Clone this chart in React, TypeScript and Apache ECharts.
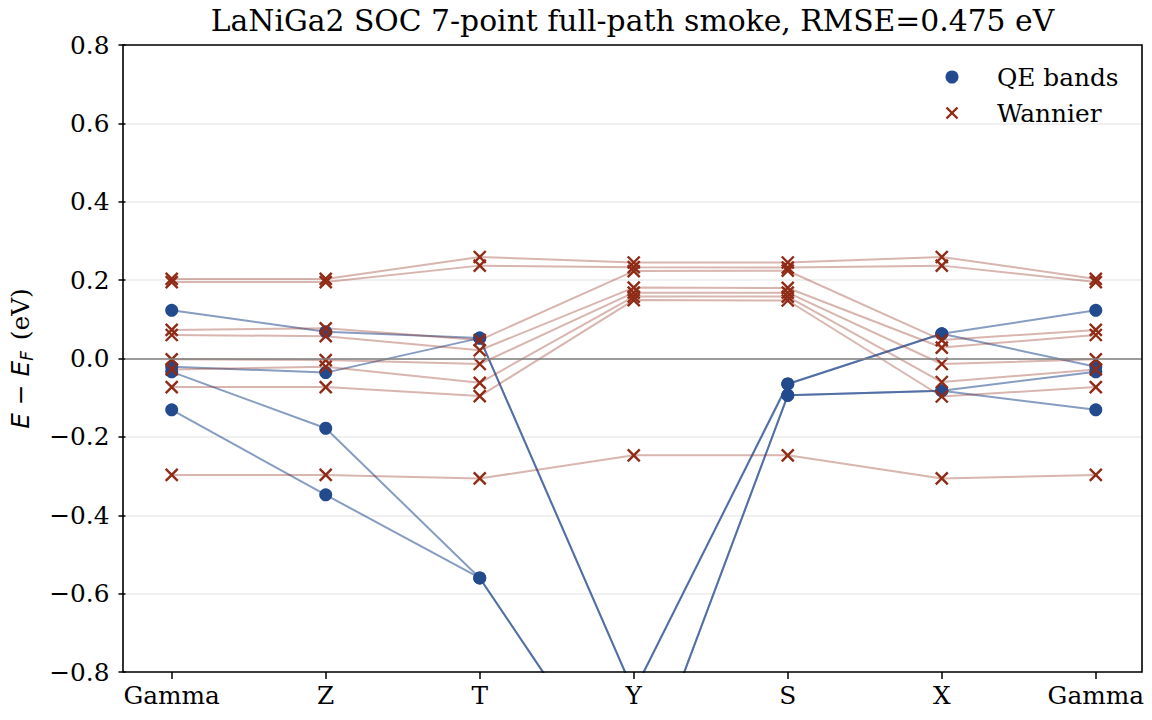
import React, { useEffect, useRef } from "react";
import * as echarts from "echarts";

// High-symmetry path
const kLabels = ["Gamma", "Z", "T", "Y", "S", "X", "Gamma"];
const kPos = [0, 1, 2, 3, 4, 5, 6];

// DFT (QE) band energies, E - E_F in eV, at each k-point
const qe1 = [0.123, 0.068, 0.052, -0.851, -0.065, 0.063, 0.123];
const qe2 = [-0.021, -0.036, 0.052, -0.851, -0.065, 0.063, -0.021];
const qe3 = [-0.034, -0.178, -0.56, -1.145, -0.094, -0.082, -0.034];
const qe4 = [-0.131, -0.348, -0.56, -1.145, -0.094, -0.082, -0.131];
const qeBands = [qe1, qe2, qe3, qe4];

// Wannier-interpolated band energies
const wn1 = [0.203, 0.203, 0.259, 0.245, 0.245, 0.259, 0.203];
const wn2 = [0.195, 0.195, 0.237, 0.233, 0.232, 0.237, 0.195];
const wn3 = [0.073, 0.077, 0.047, 0.223, 0.224, 0.047, 0.073];
const wn4 = [0.06, 0.057, 0.021, 0.181, 0.18, 0.028, 0.06];
const wn5 = [-0.002, -0.004, -0.014, 0.168, 0.168, -0.014, -0.002];
const wn6 = [-0.028, -0.021, -0.062, 0.158, 0.158, -0.06, -0.028];
const wn7 = [-0.073, -0.073, -0.096, 0.149, 0.148, -0.097, -0.073];
const wn8 = [-0.297, -0.297, -0.306, -0.247, -0.247, -0.306, -0.297];
const wnBands = [wn1, wn2, wn3, wn4, wn5, wn6, wn7, wn8];

const titleText = "LaNiGa2 SOC 7-point full-path smoke, RMSE=0.475 eV";

const QE_COLOR = "#244a8e";
const WN_COLOR = "#8f2b16";
const SERIF = "'DejaVu Serif', serif";
const SANS = "'DejaVu Sans', sans-serif";
const FS = 24.8;
const TITLE_FS = 29.8;

const GRID = { left: 123, top: 45, right: 10, bottom: 48 };
const W = 1152;
const H = 720;

const CROSS = "path://M0,0L10,10M10,0L0,10";

function fmtTick(v: number): string {
  if (Math.abs(v) < 1e-9) return "0.0";
  return v.toFixed(1).replace("-", "\u2212");
}

export default function App() {
  const ref = useRef<HTMLDivElement>(null);

  useEffect(() => {
    if (!ref.current) return;
    const chart = echarts.init(ref.current, null, { renderer: "svg" });

    const qeSeries = qeBands.map((band, bi) => ({
      type: "line",
      name: "QE bands",
      data: band.map((e, i) => [kPos[i], e]),
      symbol: "circle",
      symbolSize: 13,
      showAllSymbol: true,
      clip: true,
      z: 2,
      itemStyle: { color: QE_COLOR, opacity: 1 },
      lineStyle: { color: QE_COLOR, width: 2, opacity: 0.55 },
      emphasis: { disabled: true },
      ...(bi === 0
        ? {
            markLine: {
              silent: true,
              symbol: "none",
              label: { show: false },
              lineStyle: { color: "#808080", width: 1.6, type: "solid", opacity: 1 },
              emphasis: { disabled: true },
              data: [{ yAxis: 0 }],
            },
          }
        : {}),
    }));

    const wnSeries = wnBands.map((band) => ({
      type: "line",
      name: "Wannier",
      data: band.map((e, i) => [kPos[i], e]),
      symbol: CROSS,
      symbolSize: 12,
      showAllSymbol: true,
      clip: true,
      z: 3,
      itemStyle: { color: "none", borderColor: WN_COLOR, borderWidth: 2.4, opacity: 1 },
      lineStyle: { color: WN_COLOR, width: 2, opacity: 0.35 },
      emphasis: { disabled: true },
    }));

    const plotW = W - GRID.left - GRID.right;
    const plotH = H - GRID.top - GRID.bottom;

    chart.setOption({
      animation: false,
      backgroundColor: "#ffffff",
      textStyle: { fontFamily: SERIF },
      grid: { ...GRID, containLabel: false },
      xAxis: {
        type: "value",
        min: -0.3,
        max: 6.3,
        axisLine: { show: false, onZero: false },
        axisTick: {
          show: true,
          customValues: kPos,
          length: 7,
          lineStyle: { color: "#000", width: 1.5 },
        },
        axisLabel: {
          customValues: kPos,
          formatter: (v: number) => kLabels[Math.round(v)] ?? "",
          fontFamily: SERIF,
          fontSize: FS,
          color: "#000",
          margin: 11,
        },
        splitLine: { show: false },
      },
      yAxis: {
        type: "value",
        min: -0.8,
        max: 0.8,
        interval: 0.2,
        name: "{i|E}{m| \u2212 }{i|E}{s|F}{t| (eV)}",
        nameLocation: "middle",
        nameRotate: 90,
        nameGap: 90,
        nameTextStyle: {
          fontFamily: SERIF,
          fontSize: FS,
          color: "#000",
          rich: {
            i: { fontFamily: SANS, fontStyle: "italic", fontSize: FS, lineHeight: 30, verticalAlign: "middle" },
            m: { fontFamily: SANS, fontSize: FS, lineHeight: 30, verticalAlign: "middle" },
            s: { fontFamily: SANS, fontStyle: "italic", fontSize: 17, lineHeight: 30, verticalAlign: "bottom", padding: [0, 3, 0, 0] },
            t: { fontFamily: SERIF, fontSize: FS, lineHeight: 30, verticalAlign: "middle" },
          },
        },
        axisLine: { show: false, onZero: false },
        axisTick: { show: true, length: 7, lineStyle: { color: "#000", width: 1.5 } },
        axisLabel: {
          formatter: fmtTick,
          fontFamily: SERIF,
          fontSize: FS,
          color: "#000",
          margin: 16,
        },
        splitLine: { show: true, lineStyle: { color: "#ebebeb", width: 1.5 } },
      },
      series: [...qeSeries, ...wnSeries],
      graphic: [
        {
          type: "text",
          x: GRID.left + plotW / 2,
          y: 20,
          style: {
            text: titleText,
            align: "center",
            verticalAlign: "middle",
            fontFamily: SERIF,
            fontSize: TITLE_FS,
            fill: "#000",
          },
          z: 20,
        },
        {
          type: "rect",
          shape: { x: GRID.left, y: GRID.top, width: plotW, height: plotH },
          style: { fill: "none", stroke: "#000", lineWidth: 1.6 },
          silent: true,
          z: 20,
        },
        {
          type: "circle",
          shape: { cx: 952, cy: 77, r: 6.5 },
          style: { fill: QE_COLOR },
          z: 20,
        },
        {
          type: "line",
          shape: { x1: 946.5, y1: 107.5, x2: 957.5, y2: 118.5 },
          style: { stroke: WN_COLOR, lineWidth: 2.4 },
          z: 20,
        },
        {
          type: "line",
          shape: { x1: 957.5, y1: 107.5, x2: 946.5, y2: 118.5 },
          style: { stroke: WN_COLOR, lineWidth: 2.4 },
          z: 20,
        },
        {
          type: "text",
          x: 997,
          y: 77,
          style: { text: "QE bands", fontFamily: SERIF, fontSize: FS, fill: "#000", verticalAlign: "middle", align: "left" },
          z: 20,
        },
        {
          type: "text",
          x: 997,
          y: 113,
          style: { text: "Wannier", fontFamily: SERIF, fontSize: FS, fill: "#000", verticalAlign: "middle", align: "left" },
          z: 20,
        },
      ],
    });

    return () => chart.dispose();
  }, []);

  return (
    <div
      ref={ref}
      style={{ position: "fixed", left: 0, top: 0, width: W, height: H, background: "#fff" }}
    />
  );
}
